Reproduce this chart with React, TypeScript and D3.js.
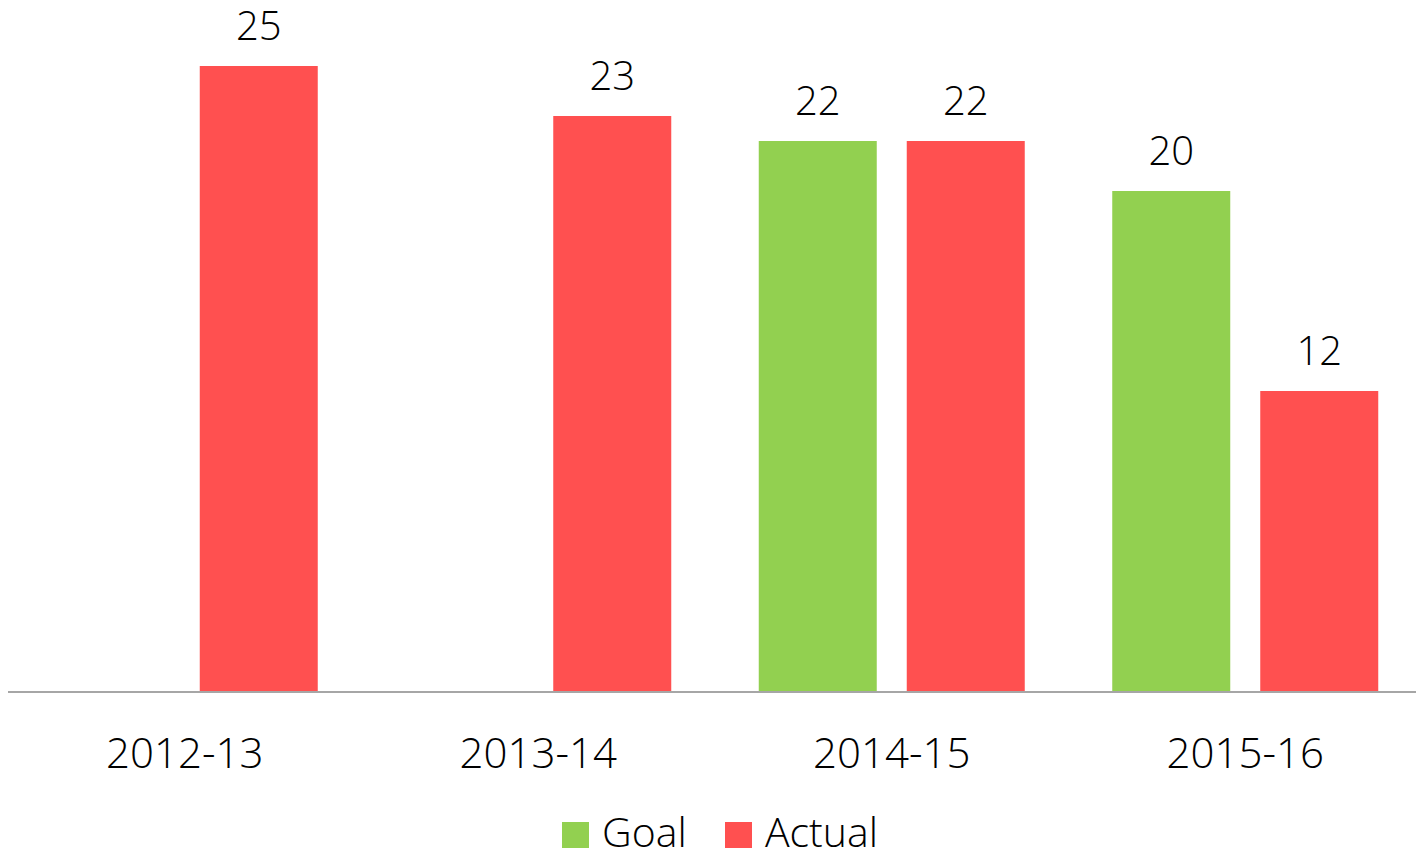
import React, { useEffect, useRef } from 'react'
import * as d3 from 'd3'

const categories = ['2012-13', '2013-14', '2014-15', '2015-16']
const goalValues = [null, null, 22, 20]
const actualValues = [25, 23, 22, 12]
const seriesNames = ['Goal', 'Actual']
const seriesColors = ['#92D050', '#FF5050']

const W = 1416
const H = 855
const FONT = "'Open Sans', 'Segoe UI', sans-serif"

export default function App() {
  const ref = useRef<SVGSVGElement>(null)

  useEffect(() => {
    const svg = d3.select(ref.current)
    svg.selectAll('*').remove()

    const x = d3.scaleBand().domain(categories).range([8, 1422])
    const y = d3.scaleLinear().domain([0, 25]).range([691, 66])

    const barW = 118
    const offsets = [-74, 74]

    const series = [goalValues, actualValues]
    series.forEach((vals, si) => {
      const g = svg.append('g')
      categories.forEach((c, i) => {
        const v = vals[i]
        if (v == null) return
        const cx = (x(c) as number) + x.bandwidth() / 2 + offsets[si]
        g.append('rect')
          .attr('x', cx - barW / 2)
          .attr('y', y(v))
          .attr('width', barW)
          .attr('height', y(0) - y(v))
          .attr('fill', seriesColors[si])
        g.append('text')
          .attr('x', cx)
          .attr('y', y(v) - 26)
          .attr('text-anchor', 'middle')
          .attr('font-family', FONT)
          .attr('font-weight', 300)
          .attr('font-size', 40)
          .attr('fill', '#000')
          .text(v)
      })
    })

    // axis line
    svg.append('line')
      .attr('x1', 8).attr('x2', 1416)
      .attr('y1', 692).attr('y2', 692)
      .attr('stroke', '#A6A6A6')
      .attr('stroke-width', 2)

    // category labels
    svg.append('g').selectAll('text')
      .data(categories).enter().append('text')
      .attr('x', d => (x(d) as number) + x.bandwidth() / 2)
      .attr('y', 768)
      .attr('text-anchor', 'middle')
      .attr('font-family', FONT)
      .attr('font-weight', 300)
      .attr('font-size', 42)
      .attr('fill', '#000')
      .text(d => d)

    // legend
    const legendX = [562, 725]
    const lg = svg.append('g')
    seriesNames.forEach((name, i) => {
      lg.append('rect')
        .attr('x', legendX[i]).attr('y', 822)
        .attr('width', 27).attr('height', 26)
        .attr('fill', seriesColors[i])
      lg.append('text')
        .attr('x', legendX[i] + 40)
        .attr('y', 847)
        .attr('font-family', FONT)
        .attr('font-weight', 300)
        .attr('font-size', 41)
        .attr('fill', '#000')
        .text(name)
    })
  }, [])

  return (
    <svg ref={ref} width={W} height={H}
      style={{ position: 'absolute', left: 0, top: 0, background: '#fff' }} />
  )
}
